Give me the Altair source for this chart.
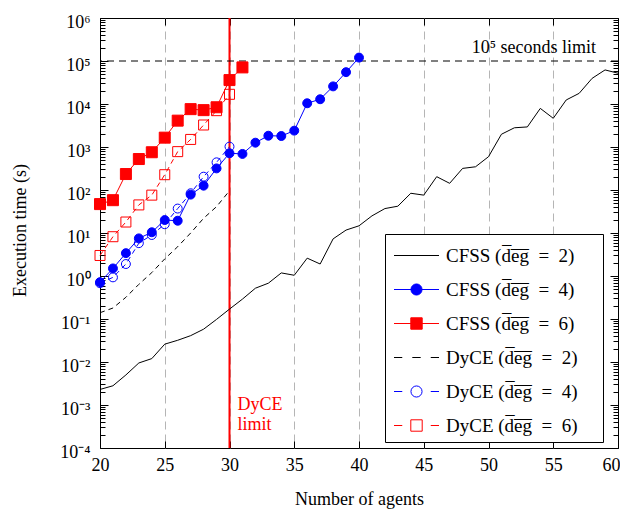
import altair as alt
import pandas as pd

# ---------------- data ----------------
agents_cfss2 = list(range(20, 61))
time_cfss2 = [0.0023, 0.0028, 0.005, 0.0095, 0.012, 0.026, 0.032, 0.041, 0.058, 0.098,
              0.17, 0.29, 0.52, 0.68, 1.18, 1.04, 2.6, 1.9, 7.3, 11.7,
              14.7, 25, 37, 42, 84, 76, 204, 143, 318, 347,
              595, 1980, 2800, 2930, 7900, 4650, 12400, 17700, 39500, 62000,
              52000]
agents_cfss4 = list(range(20, 41))
time_cfss4 = [0.72, 1.5, 3.4, 7.5, 10.4, 20, 19.3, 78, 126, 318,
              715, 690, 1260, 1830, 1800, 2400, 10400, 12900, 25700, 55000,
              120000]
agents_cfss6 = list(range(20, 32))
time_cfss6 = [47, 58, 235, 525, 755, 1650, 4100, 7600, 7200, 8400, 36000, 71000]
agents_dyce = list(range(20, 31))
time_dyce2 = [0.14, 0.18, 0.32, 0.64, 1.2, 2.5, 4.8, 10, 22, 41, 96]
time_dyce4 = [0.68, 0.93, 1.9, 5.8, 9, 16, 37, 84, 204, 440, 1020]
time_dyce6 = [3.0, 8.2, 18, 45, 76, 227, 780, 1500, 3250, 7000, 16800]

DEG = "d\u0305e\u0305g\u0305"
PAD = "\u00a0\u2800"
series_names = [f"CFSS ({DEG}\u2002=\u20022){PAD}", f"CFSS ({DEG}\u2002=\u20024){PAD}",
                f"CFSS ({DEG}\u2002=\u20026){PAD}", f"DyCE ({DEG}\u2002=\u20022){PAD}",
                f"DyCE ({DEG}\u2002=\u20024){PAD}", f"DyCE ({DEG}\u2002=\u20026){PAD}"]

limit_time = [1e5]
limit_agents = [30]
y_ticks = [m * 10 ** k for k in range(-4, 6) for m in range(1, 10)] + [1e6]
x_ticks = list(range(20, 61, 5))
x_grid = list(range(25, 60, 5))

# ---------------- tables ----------------
parts = [(agents_cfss2, time_cfss2, series_names[0]),
         (agents_cfss4, time_cfss4, series_names[1]),
         (agents_cfss6, time_cfss6, series_names[2]),
         (agents_dyce, time_dyce2, series_names[3]),
         (agents_dyce, time_dyce4, series_names[4]),
         (agents_dyce, time_dyce6, series_names[5])]
df = pd.concat([pd.DataFrame({"agents": a, "time": t, "series": s}) for a, t, s in parts],
               ignore_index=True)
df["order"] = range(len(df))
legend_df = pd.DataFrame({"series": series_names})

W, H = 518, 430
FONT = "Liberation Serif"

x_scale = alt.Scale(domain=[20, 60], nice=False, zero=False)
y_scale = alt.Scale(type="log", domain=[1e-4, 1e6], nice=False)

stroke_scale = alt.Scale(domain=series_names,
                         range=["black", "blue", "red", "black", "blue", "red"])
fill_scale = alt.Scale(domain=series_names,
                       range=["transparent", "blue", "red", "transparent", "transparent", "transparent"])
circ = "M0.37,0A0.37,0.37,0,1,1,-0.37,0A0.37,0.37,0,1,1,0.37,0Z"
sq = "M-0.38,-0.38H0.38V0.38H-0.38Z"
dashes = "M-1.5,0H-0.95M0.95,0H1.5"
shape_scale = alt.Scale(domain=series_names, range=[
    "M-1.5,0H1.5",
    "M-1.5,0H1.5" + circ,
    "M-1.5,0H1.5" + sq,
    "M-1.5,0H-0.95M-0.28,0H0.28M0.95,0H1.5",
    dashes + circ,
    dashes + sq,
])

is_major = "abs(log(datum.value)/LN10 - round(log(datum.value)/LN10)) < 1e-6"
y_axis = alt.Axis(
    values=y_ticks, title="Execution time (s)",
    labelExpr=is_major + " ? '10' + ['\u207b\u2074','\u207b\u00b3','\u207b\u00b2','\u207b\u00b9','\u2070','\u00b9','\u00b2','\u00b3','\u2074','\u2075','\u2076'][round(log(datum.value)/LN10) + 4] : ''",
    labelOverlap=False, labelFlush=False, labelBound=False,
    ticks=False, tickSize=0, domain=False, labelPadding=10, labelOffset=4,
    labelBaseline="middle",
    grid=True, gridColor="black", gridWidth=1, gridOpacity=1,
    gridDash={"condition": {"test": is_major, "value": [8, W - 16]}, "value": [5, W - 10]},
    titleX=-80, titleY=212, titleAngle=-90, titleAlign="center", titleBaseline="middle",
)
x_axis_bottom = alt.Axis(
    orient="bottom", values=x_ticks, title="Number of agents", format="d",
    ticks=False, tickSize=0, domain=False, labelPadding=8, labelFlush=False,
    labelOverlap=False,
    labelAlign={"condition": {"test": "datum.value == 60", "value": "right"}, "value": "center"},
    labelOffset={"condition": {"test": "datum.value == 60", "value": 2}, "value": 0},
    grid=True, gridColor="black", gridWidth=1, gridDash=[7, H - 14],
    titleX=W / 2, titleY=56, titleBaseline="alphabetic", titleAlign="center",
)
x_axis_top = alt.Axis(
    orient="top", values=x_grid, title=None, labels=False, ticks=False, domain=False,
    grid=True, gridColor="#b5b5b5", gridWidth=1, gridDash=[8, 5],
)

leg = dict(title=None, orient="none", legendX=285, legendY=216,
           strokeColor="black", fillColor="white", padding=6, cornerRadius=0,
           symbolSize=900, symbolStrokeWidth=1, symbolOffset=10, labelOffset=14,
           labelFont=FONT, labelFontSize=19, labelColor="black", rowPadding=8,
           labelLimit=400)

Y = alt.Y("time:Q", scale=y_scale, axis=y_axis)

legend_layer = alt.Chart(legend_df).transform_filter("false").mark_point(
    opacity=1, strokeWidth=1).encode(
    shape=alt.Shape("series:N", scale=shape_scale, legend=alt.Legend(**leg)),
    stroke=alt.Stroke("series:N", scale=stroke_scale, legend=alt.Legend(**leg)),
    fill=alt.Fill("series:N", scale=fill_scale, legend=alt.Legend(**leg)),
)

vline = alt.Chart(pd.DataFrame({"agents": limit_agents})).mark_rule(
    color="red", strokeWidth=2).encode(
    x=alt.X("agents:Q", scale=x_scale, axis=x_axis_top))

hline = alt.Chart(pd.DataFrame({"time": limit_time})).mark_rule(
    color="black", strokeWidth=1, strokeDash=[7, 5]).encode(y=Y)

lines_solid = alt.Chart(df).transform_filter(
    alt.FieldOneOfPredicate(field="series", oneOf=series_names[:3])
).mark_line(strokeWidth=1).encode(
    x=alt.X("agents:Q", scale=x_scale, axis=x_axis_bottom),
    y=Y,
    stroke=alt.Stroke("series:N", scale=stroke_scale, legend=None),
    order="order:Q",
)
lines_dashed = alt.Chart(df).transform_filter(
    alt.FieldOneOfPredicate(field="series", oneOf=series_names[3:])
).mark_line(strokeWidth=1, strokeDash=[5, 4]).encode(
    x=alt.X("agents:Q", scale=x_scale, axis=None),
    y=Y,
    stroke=alt.Stroke("series:N", scale=stroke_scale, legend=None),
    order="order:Q",
)


def markers(shape, size, names):
    return alt.Chart(df).transform_filter(
        alt.FieldOneOfPredicate(field="series", oneOf=names)
    ).mark_point(shape=shape, size=size, strokeWidth=1, opacity=1).encode(
        x=alt.X("agents:Q", scale=x_scale, axis=None),
        y=Y,
        stroke=alt.Stroke("series:N", scale=stroke_scale, legend=None),
        fill=alt.Fill("series:N", scale=fill_scale, legend=None),
    )


filled_c = markers("circle", 80, [series_names[1]])
filled_s = markers("square", 121, [series_names[2]])
open_c = markers("circle", 80, [series_names[4]])
open_s = markers("square", 100, [series_names[5]])

label_limit = alt.Chart(pd.DataFrame({"agents": [58.3], "time": limit_time,
                                      "label": ["10\u2075 seconds limit"]})).mark_text(
    align="right", baseline="alphabetic", dy=-8, font=FONT, fontSize=18, color="black"
).encode(x=alt.X("agents:Q", scale=x_scale, axis=None), y=Y, text="label:N")

label_dyce = alt.Chart(pd.DataFrame({"agents": limit_agents, "time": [1.6e-3],
                                     "label": ["DyCE\nlimit"]})).mark_text(
    align="left", baseline="top", dx=8, font=FONT, fontSize=18, color="red",
    lineBreak="\n", lineHeight=20
).encode(x=alt.X("agents:Q", scale=x_scale, axis=None), y=Y, text="label:N")

chart = alt.layer(
    legend_layer, vline, hline, lines_solid, lines_dashed, filled_c, filled_s, open_c, open_s,
    label_limit, label_dyce
).resolve_axis(x="independent").properties(
    width=W, height=H,
    background="white",
    autosize=alt.AutoSizeParams(type="none"),
    padding={"left": 92, "top": 10, "right": 2, "bottom": 62},
).configure_view(stroke="black", strokeWidth=1).configure_axis(
    labelFont=FONT, labelFontSize=18, labelColor="black",
    titleFont=FONT, titleFontSize=18, titleFontWeight="normal", titleColor="black",
)

chart.save("out.html", embed_options={"renderer": "svg", "actions": False})
